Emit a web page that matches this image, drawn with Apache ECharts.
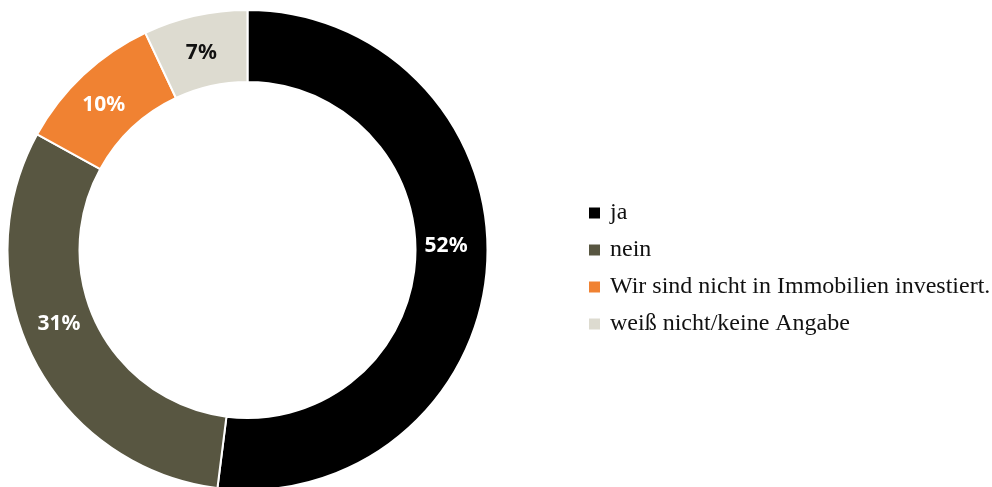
<!DOCTYPE html>
<html>
<head>
<meta charset="utf-8">
<script src="https://cdn.jsdelivr.net/npm/echarts@6/dist/echarts.min.js"></script>
<style>
  html, body { margin: 0; padding: 0; background: #ffffff; }
  #chart { width: 992px; height: 487px; }
</style>
</head>
<body>
<div id="chart"></div>
<script>
// Antworten und Anteile in Prozent
const categories = ['ja', 'nein', 'Wir sind nicht in Immobilien investiert.', 'weiß nicht/keine Angabe'];
const shares = [52, 31, 10, 7];

// Darstellung je Segment
const colors = ['#000000', '#585641', '#f08232', '#dddbd0'];
const labelColors = ['#ffffff', '#ffffff', '#ffffff', '#111111'];
const labelNudges = [[-8, -17], [-4, -20], [-2, 6], [-1, 5]];

const chart = echarts.init(document.getElementById('chart'));

const data = categories.map((name, i) => ({
  name: name,
  value: shares[i],
  itemStyle: { color: colors[i] },
  label: { color: labelColors[i], offset: labelNudges[i] }
}));

chart.setOption({
  animation: false,
  legend: {
    orient: 'vertical',
    left: 582,
    top: 196,
    itemWidth: 13,
    itemHeight: 13,
    itemGap: 13,
    icon: 'rect',
    selectedMode: false,
    textStyle: {
      fontFamily: 'Liberation Serif',
      fontSize: 24,
      lineHeight: 24,
      color: '#111111',
      padding: [0, 0, 0, 4]
    },
    data: categories
  },
  series: [{
    type: 'pie',
    center: [247.5, 250],
    radius: [168, 240],
    startAngle: 90,
    clockwise: true,
    avoidLabelOverlap: false,
    itemStyle: { borderColor: '#ffffff', borderWidth: 2 },
    label: {
      show: true,
      position: 'inside',
      formatter: '{c}%',
      fontFamily: 'Noto Sans',
      fontWeight: 'bold',
      fontSize: 21
    },
    labelLine: { show: false },
    emphasis: { disabled: true },
    data: data
  }]
});
</script>
</body>
</html>
